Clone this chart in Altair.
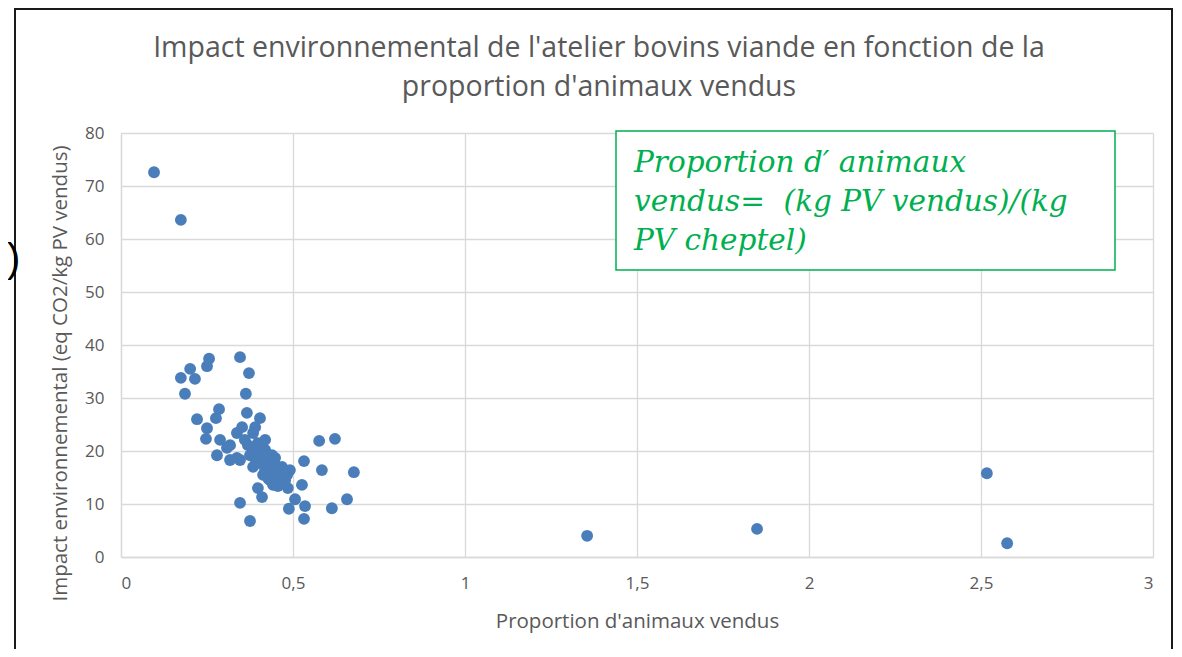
import altair as alt
import pandas as pd

# Proportion d'animaux vendus (x) and impact (y)
x_vals = [0.096, 0.174, 1.355, 1.849, 2.517, 2.576,
          0.174, 0.186, 0.201, 0.215, 0.221, 0.250, 0.256, 0.250, 0.247, 0.285,
          0.276, 0.288, 0.279, 0.346, 0.372, 0.363, 0.366, 0.404, 0.352, 0.390,
          0.337, 0.384, 0.308, 0.317, 0.337, 0.346, 0.375, 0.398, 0.439, 0.404,
          0.384, 0.468, 0.483, 0.413, 0.433, 0.442, 0.398, 0.410, 0.485, 0.526,
          0.506, 0.346, 0.535, 0.488, 0.613, 0.657, 0.375, 0.532, 0.576, 0.622,
          0.532, 0.584, 0.677, 0.419, 0.427, 0.448, 0.456, 0.419, 0.462, 0.439,
          0.477, 0.390, 0.410, 0.369, 0.360, 0.427, 0.448, 0.491, 0.456, 0.317,
          0.419, 0.392, 0.433]
y_vals = [72.6, 63.6, 4.0, 5.3, 15.8, 2.6,
          33.8, 30.8, 35.5, 33.6, 26.0, 36.0, 37.4, 24.3, 22.3, 27.9,
          26.2, 22.1, 19.2, 37.7, 34.7, 30.8, 27.2, 26.2, 24.5, 24.5,
          23.4, 23.4, 20.6, 18.3, 18.7, 18.3, 19.2, 21.5, 19.2, 17.7,
          17.0, 17.0, 15.5, 15.5, 14.5, 13.6, 13.0, 11.3, 13.0, 13.6,
          10.9, 10.2, 9.6, 9.1, 9.2, 10.9, 6.8, 7.2, 21.9, 22.3,
          18.1, 16.4, 16.0, 20.2, 18.3, 17.4, 16.0, 16.4, 14.9, 16.4,
          14.5, 20.2, 19.2, 21.1, 22.1, 14.9, 18.7, 16.4, 13.4, 21.1,
          22.1, 18.3, 17.4]

x_ticks = [0, 0.5, 1, 1.5, 2, 2.5, 3]
y_ticks = [0, 10, 20, 30, 40, 50, 60, 70, 80]

title_lines = ["Impact environnemental de l'atelier bovins viande en fonction de la",
               "proportion d'animaux vendus"]
x_title = "Proportion d'animaux vendus"
y_title = "Impact environnemental (eq CO2/kg PV vendus)"
note_lines = ["Proportion d\u2032 animaux", "vendus=\u00a0\u00a0(kg PV vendus)/(kg", "PV cheptel)"]

df = pd.DataFrame({"x": x_vals, "y": y_vals})
one = pd.DataFrame({"k": [0]})

GREY = "#595959"
FONT = "Open Sans"
W, H = 1032, 424

points = alt.Chart(df).mark_circle(size=140, opacity=1, color="#4A7EBB").encode(
    x=alt.X("x:Q", title=x_title,
            scale=alt.Scale(domain=[0, 3], nice=False, zero=False),
            axis=alt.Axis(values=x_ticks, format=".1~f",
                          labelExpr="replace(datum.label, '.', ',')",
                          labelPadding=18, titlePadding=20)),
    y=alt.Y("y:Q", title=y_title,
            scale=alt.Scale(domain=[0, 80], nice=False),
            axis=alt.Axis(values=y_ticks, labelPadding=17,
                          titleX=-51, titleY=240)),
)

frame = alt.Chart(one).mark_rect(fill=None, stroke="#1a1a1a", strokeWidth=2).encode(
    x=alt.value(-106), x2=alt.value(1051), y=alt.value(-124), y2=alt.value(560))

paren = alt.Chart(one).mark_text(text=")", fontSize=40, color="#000000", font="Liberation Sans",
                                 align="left", baseline="middle").encode(
    x=alt.value(-114), y=alt.value(127))

title = alt.Chart(one).mark_text(align="center", baseline="alphabetic", font=FONT,
                                 fontSize=28.5, color=GREY, lineHeight=39).encode(
    x=alt.value(478), y=alt.value(-76), text=alt.value(title_lines))

box = alt.Chart(one).mark_rect(fill="white", stroke="#00B050", strokeWidth=1.5).encode(
    x=alt.value(495), x2=alt.value(994), y=alt.value(-2), y2=alt.value(137))

note = alt.Chart(one).mark_text(align="left", baseline="alphabetic", font="DejaVu Serif",
                                fontStyle="italic", fontSize=29.5, color="#00B050",
                                lineHeight=39).encode(
    x=alt.value(513), y=alt.value(39), text=alt.value(note_lines))

chart = alt.layer(points, box, note, title, frame, paren).properties(
    width=W, height=H,
    autosize=alt.AutoSizeParams(type="none"),
    padding={"left": 113, "top": 125, "right": 21, "bottom": 92},
).configure_view(stroke=None).configure_axis(
    grid=True, gridColor="#D9D9D9", gridWidth=1.3,
    domain=True, domainColor="#D9D9D9", domainWidth=1.3,
    ticks=False, labelFont=FONT, labelFontSize=17, labelColor=GREY,
    titleFont=FONT, titleFontSize=20.5, titleFontWeight="normal", titleColor=GREY,
)

chart.save("out.html", embed_options={"renderer": "svg", "actions": False})
